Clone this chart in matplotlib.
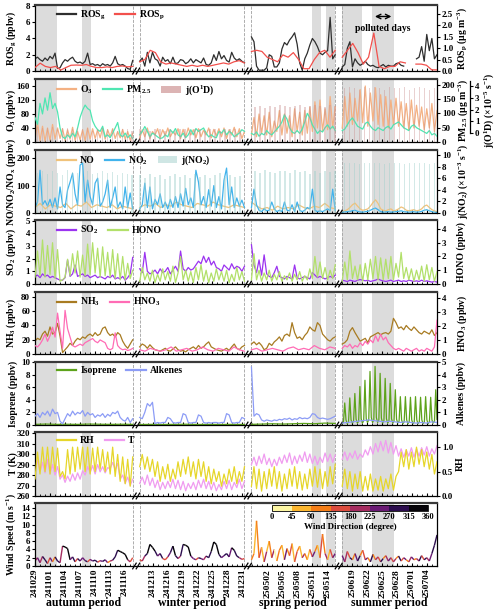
import numpy as np
import pandas as pd
import matplotlib
matplotlib.use('Agg')
import matplotlib.pyplot as plt
import matplotlib.transforms as mtransforms
from matplotlib.collections import LineCollection
from matplotlib.colors import ListedColormap, BoundaryNorm
from matplotlib.cm import ScalarMappable
from matplotlib.lines import Line2D
from matplotlib.patches import Patch

plt.rcParams['font.family'] = ['Liberation Serif', 'DejaVu Serif']
plt.rcParams['font.weight'] = 'bold'
plt.rcParams['axes.labelweight'] = 'bold'
plt.rcParams['mathtext.default'] = 'regular'

nan = np.nan

# ---- campaign periods (broken time axis) ----
SEGMENTS = ['autumn period', 'winter period', 'spring period', 'summer period']
SEG_START = ['2024-10-29 00:00', '2024-12-10 10:00', '2025-04-28 19:00', '2025-06-17 00:00']
SEG_END = ['2024-11-17 14:00', '2024-12-31 10:00', '2025-05-15 14:00', '2025-07-06 00:00']
FIRST_NOON = ['2024-10-29 12:00', '2024-12-10 12:00', '2025-04-29 12:00', '2025-06-17 12:00']
TICK_FIRST = ['2024-10-29', '2024-12-13', '2025-05-02', '2025-06-19']
TICK_LAST = ['2024-11-16', '2024-12-31', '2025-05-14', '2025-07-04']
POLLUTED = [(0, '2024-10-29 05:00', '2024-11-02 10:00'), (0, '2024-11-07 10:00', '2024-11-09 05:00'),
            (2, '2025-05-11 00:00', '2025-05-12 19:00'), (2, '2025-05-13 19:00', '2025-05-15 14:00'),
            (3, '2025-06-17 00:00', '2025-06-21 00:00'), (3, '2025-06-23 00:00', '2025-06-27 10:00')]
GAP = 1.4

# ---- ROS ----
ROSG_AUT = [1.5, 1.7, 1.4, 1.2, 1.6, 1.3, 1.8, 1.5, 2.2, 0.3, 0.4, 1.0, 1.4, 1.2, 1.5, 1.7, 1.2, 1.0, 1.1, 0.9,
            1.2, 2.2, 0.8, 0.9, 0.7, 0.8, 0.6, 0.9, 0.7, 0.8, 0.6, 1.0, 1.8, 0.9, 0.7, 0.8, 0.6, 0.3, 0.2, 1.3]
ROSG_WIN = [1.2, 1.6, 0.6, 2.3, 1.0, 2.3, 1.5, 1.3, 0.6, 1.7, 1.2, 1.4, 0.9, 1.7, 0.9, 1.0, 1.4, 1.3, 0.9, 1.1, 1.5,
            1.0, 1.4, 1.2, 1.0, 1.6, 0.8, 0.7, 1.0, 2.0, 1.3, 2.4, 1.5, 1.9, 1.3, 1.1, 2.3, 1.6, 1.3, 1.5, 1.2, 1.0]
ROSG_SPR = [4.2, 3.6, 0.6, 0.1, 0.1, 0.1, 0.4, 2.0, 1.8, 0.5, 0.5, 1.0, 2.7, 3.5, 3.2, 3.8, 4.2, 4.7, 3.3, 1.0,
            0.1, 1.5, 2.2, 3.2, 4.0, 3.6, 3.0, 2.2, 2.0, 2.3, 2.5, 6.6, 1.5, 2.0]
ROSG_SUM = [0.5, 0.8, 2.8, 3.6, 0.5, 1.5, 1.0, 0.7, 0.9, 1.2, 0.8, 0.6, 0.7, 0.5, 0.4, 0.6, 0.8, 0.5, 0.7, 0.6,
            0.6, 0.9, 1.0, 0.7, 0.6, nan, nan, nan, nan, 1.5, 1.7, 3.0, 1.2, 4.5, 2.5, 4.0, 1.5, 2.0]
ROSP_AUT = [0.15, 0.34, 0.2, 0.15, 0.2, 0.04, 0.15, 0.25, 0.26, 0.25, 0.28, 0.2, 0.15, 0.15, 0.18, 0.15, 0.2,
            0.22, 0.18, 0.2]
ROSP_WIN = [0.4, 0.5, 0.9, 0.8, 0.4, 0.3, 0.35, 0.3, 0.25, 0.2, 0.25, 0.2, 0.25, 0.2, 0.25, 0.3, 0.35, 0.3, 0.4,
            0.45, 0.35]
ROSP_SPR = [0.85, 0.9, 0.85, 0.6, 0.5, 0.4, 0.7, 0.6, 0.8, 0.5, 0.1, 0.1, 0.5, 0.8, 0.9, 0.6, 0.9]
ROSP_SUM = [0.6, 0.9, 1.2, 0.8, 0.3, 0.6, 1.65, 0.2, 0.1, 0.2, 0.2, 0.4, 0.35, nan, 0.3, 0.3, 0.25, 0.05, 0.05]

# ---- O3 / PM2.5 / j(O1D) ----
O3_AUT = [5, 55, 3, 45, 2, 40, 5, 50, 8, 40, 10, 38, 5, 35, 8, 42, 5, 30, 6, 35, 4, 40, 8, 38, 10, 35, 12, 40, 8,
          35, 15, 38, 10, 30, 12, 36, 8, 30, 5, 25]
O3_WIN = [10, 35, 15, 40, 10, 30, 20, 38, 12, 35, 18, 40, 15, 30, 20, 38, 10, 36, 15, 40, 20, 35, 12, 38, 15, 34,
          20, 40, 12, 36, 18, 38, 15, 40, 10, 35, 20, 42, 15, 38, 10, 30]
O3_SPR = [20, 70, 15, 80, 25, 75, 20, 85, 15, 60, 30, 90, 20, 80, 25, 75, 15, 95, 30, 85, 20, 90, 25, 100, 30, 115,
          40, 120, 30, 95, 35, 130, 40, 100]
O3_SUM = [40, 130, 45, 140, 50, 125, 60, 150, 55, 160, 45, 140, 60, 155, 50, 135, 45, 130, 40, 120, 50, 125, 45,
          115, 40, 110, 35, 120, 40, 105, 45, 100, 35, 95, 40, 110, 30, 90]
PM_AUT = [86, 62, 135, 98, 154, 111, 172, 117, 135, 105, 49, 18, 12, 25, 15, 31, 18, 49, 86, 111, 129, 117, 111,
          74, 55, 43, 37, 55, 18, 25, 15, 31, 49, 68, 25, 18, 31, 15, 25, 12]
PM_WIN = [25, 37, 54, 37, 18, 31, 25, 18, 12, 15, 25, 18, 43, 31, 47, 25, 18, 31, 15, 25, 43, 25, 47, 37, 43, 49,
          31, 18, 25, 18, 15, 37, 31, 43, 25, 37, 31, 18, 25, 31, 43, 37]
PM_SPR = [30, 25, 35, 20, 30, 25, 40, 30, 25, 35, 45, 55, 70, 95, 80, 50, 35, 30, 40, 30, 45, 70, 100, 85, 60, 45,
          30, 40, 35, 50, 60, 45, 55, 40]
PM_SUM = [40, 45, 60, 75, 84, 70, 55, 50, 45, 65, 70, 55, 45, 40, 50, 45, 40, 50, 55, 45, 60, 65, 70, 60, 50, 45,
          40, 55, 60, 50, 45, 40, 35, 30, 40, 25, 30, 20]
JO1D_AUT = [0.5, 0.4, 0.4, 0.5, 0.3, 0.4, 0.4, 0.3, 0.4, 0.3, 0.4, 0.2, 0.3, 0.4, 0.3, 0.3, 0.2, 0.3, 0.3, 0.2]
JO1D_WIN = [0.3, 0.3, 0.2, 0.3, 0.3, 0.2, 0.3, 0.2, 0.3, 0.3, 0.2, 0.3, 0.3, 0.2, 0.3, 0.3, 0.2, 0.3, 0.3, 0.3, 0.2]
JO1D_SPR = [2.2, 2.3, 2.1, 2.3, 2.2, 2.4, 2.3, 2.2, 2.3, 2.4, 2.2, 2.3, 2.4, 2.3, 2.2, 2.4, 2.3]
JO1D_SUM = [3.8, 3.9, 3.8, 3.7, 3.9, 3.8, 3.9, 3.8, 3.7, 3.9, 3.8, 3.8, 3.9, 3.7, 3.8, 3.9, 3.8, 3.7, 3.8]

# ---- NO / NO2 / j(NO2) ----
NO_AUT = [20, 35, 15, 30, 25, 20, 35, 15, 30, 25, 40, 20, 30, 25, 20, 30, 15, 25, 20, 15]
NO_WIN = [20, 30, 25, 35, 20, 30, 25, 40, 30, 25, 20, 35, 30, 25, 40, 30, 25, 20, 30, 25, 20]
NO_SPR = [40, 25, 15, 20, 10, 25, 15, 20, 15, 30, 20, 15, 25, 20, 35, 20, 15]
NO_SUM = [5, 8, 12, 20, 30, 36, 25, 15, 10, 12, 15, 25, 38, 48, 35, 15, 10, 8, 12, 15, 8, 10, 15, 22, 18, 10, 8,
          10, 12, 8, 10, 15, 25, 29, 20, 12, 8, 5]
NO2_AUT = [20, 40, 156, 30, 45, 25, 50, 20, 55, 15, 95, 30, 20, 84, 113, 145, 70, 30, 175, 182, 40, 120, 60, 30,
           109, 127, 25, 40, 70, 120, 20, 55, 95, 20, 40, 15, 95, 20, 73, 15]
NO2_WIN = [15, 30, 109, 20, 95, 15, 50, 30, 70, 20, 40, 15, 50, 20, 60, 20, 70, 25, 90, 30, 55, 20, 156, 113, 30,
           60, 20, 85, 25, 100, 20, 60, 15, 120, 164, 30, 95, 20, 55, 25, 47, 20]
NO2_SPR = [20, 87, 30, 10, 5, 15, 8, 10, 40, 15, 5, 10, 5, 40, 10, 8, 30, 5, 40, 10, 5, 10, 20, 15, 87, 10, 5, 8,
           5, 10, 15, 8, 87, 10]
NO2_SUM = [3, 4, 5, 6, 8, 10, 6, 4, 3, 5, 6, 10, 15, 18, 12, 5, 3, 4, 5, 3, 4, 5, 6, 8, 5, 4, 3, 4, 5, 3, 4, 6, 10,
           12, 8, 5, 3, 2]
JNO2_AUT = [7.0, 7.2, 6.8, 7.3, 7.0, 6.5, 7.4, 7.1, 6.9, 7.5, 7.2, 6.8, 7.0, 7.3, 6.9, 7.1, 6.6, 7.0, 6.8, 6.5]
JNO2_WIN = [6.5, 6.0, 6.8, 6.3, 6.6, 5.8, 6.4, 6.7, 6.2, 6.5, 6.0, 6.8, 6.3, 6.6, 6.1, 6.5, 6.9, 6.3, 6.6, 6.2, 6.4]
JNO2_SPR = [7.2, 7.0, 7.4, 7.1, 6.9, 7.3, 7.2, 7.0, 7.4, 7.1, 7.3, 6.8, 7.2, 7.0, 7.3, 7.1, 7.2]
JNO2_SUM = [8.6, 8.7, 8.6, 8.5, 8.7, 8.6, 8.6, 8.7, 8.5, 8.6, 8.7, 8.6, 8.5, 8.7, 8.6, 8.6, 8.7, 8.5, 8.6]

# ---- SO2 / HONO ----
SO2_AUT = [0.6, 0.7, 0.5, 0.8, 0.6, 0.7, 0.5, 0.6, 0.5, 0.4, 0.3, 0.3, 0.5, 1.9, 0.6, 0.8, 1.5, 0.6, 0.7, 0.8,
           0.6, 0.7, 0.5, 0.6, 0.7, 0.5, 0.6, 0.5, 0.4, 0.6, 0.5, 0.7, 0.4, 0.5, 0.4, 0.6, 0.3, 0.5, 0.8, 2.1]
SO2_WIN = [1.2, 0.9, 2.5, 1.0, 0.8, 0.9, 1.1, 0.8, 1.2, 0.9, 1.0, 1.3, 0.8, 1.1, 1.4, 1.0, 2.6, 1.2, 1.0, 1.3,
           1.1, 1.2, 1.5, 1.8, 1.6, 2.2, 1.7, 2.1, 1.5, 1.8, 1.3, 1.2, 1.0, 1.5, 1.3, 1.1, 1.6, 1.2, 1.4, 1.3, 1.0, 1.4]
SO2_SPR = [3.1, 1.5, 0.9, 1.9, 0.7, 2.3, 0.8, 0.6, 0.5, 0.9, 1.4, 0.6, 0.5, 0.4, 0.6, 0.5, 0.4, 1.5, 0.5, 0.4,
           0.5, 0.6, 0.5, 0.4, 0.9, 0.7, 0.5, 0.6, 0.5, 0.4, 0.5, 0.6, 0.5, 0.7]
SO2_SUM = [0.3, 0.25, 0.2, 0.3, 0.25, 0.2, 0.3, 0.35, 0.3, 0.25, 0.3, 0.2, 0.25, 0.3, 0.4, 0.3, 0.25, 0.2, 0.25,
           0.3, 0.2, 0.25, 0.3, 0.2, 0.25, 0.2, 0.3, 0.25, 0.2, 0.25, 0.2, 0.3, 0.2, 0.25, 0.2, 0.15, 0.2, 0.15]
HONO_AUT = [0.5, 2.4, 0.6, 3.2, 0.5, 2.8, 0.7, 3.0, 0.4, 2.5, 0.2, 0.3, 0.5, 1.8, 0.6, 2.2, 0.8, 2.4, 0.5, 2.1,
            0.6, 2.9, 0.7, 3.0, 0.8, 2.6, 0.5, 2.7, 0.6, 2.3, 0.5, 2.5, 0.4, 2.2, 0.3, 2.0, 0.3, 1.5, 0.4, 1.0]
HONO_WIN = [0.2, 1.2, 0.3, 0.8, 0.2, 1.0, 0.1, 0.7, 0.2, 1.1, 0.3, 0.9, 0.2, 1.3, 0.1, 0.8, 2.0, 0.3, 1.0, 0.2,
            0.9, 0.1, 1.2, 0.3, 1.4, 0.2, 1.0, 0.1, 0.8, 0.2, 1.1, 0.3, 0.9, 0.2, 1.0, 0.1, 0.7, 0.2, 1.2, 0.3, 0.9, 0.2]
HONO_SPR = [0.3, 2.2, 0.3, 1.0, 0.2, 0.8, 0.3, 1.0, 0.2, 0.7, 0.3, 0.9, 0.2, 0.6, 0.3, 0.8, 0.2, 0.7, 0.3, 0.9,
            0.2, 0.6, 0.3, 1.1, 0.4, 2.0, 0.5, 1.6, 0.4, 1.2, 0.3, 1.0, 0.4, 1.4]
HONO_SUM = [0.2, 1.6, 0.3, 2.4, 0.4, 1.3, 0.3, 1.4, 0.2, 1.5, 0.3, 1.8, 0.4, 2.0, 0.3, 1.9, 0.3, 1.8, 0.4, 2.0,
            0.3, 1.5, 0.5, 2.3, 0.4, 1.2, 0.3, 1.1, 0.2, 1.0, 0.3, 1.3, 0.2, 1.4, 0.3, 1.2, 0.2, 0.9]

# ---- NH3 / HNO3 ----
NH3_AUT = [18, 22, 20, 28, 32, 25, 38, 28, 30, 43, 25, 2, 6, 10, 15, 12, 18, 22, 20, 24, 22, 26, 28, 25, 30, 26,
           28, 36, 38, 30, 26, 28, 24, 30, 27, 18, 12, 8, 14, 20]
NH3_WIN = [10, 14, 12, 8, 13, 9, 6, 5, 4, 6, 8, 5, 4, 7, 10, 6, 4, 5, 3, 6, 8, 10, 7, 12, 8, 10, 14, 17, 10, 8, 6,
           5, 4, 6, 8, 5, 10, 14, 8, 6, 10, 12]
NH3_SPR = [14, 17, 13, 16, 12, 6, 8, 15, 12, 17, 20, 24, 18, 26, 28, 25, 44, 30, 22, 24, 20, 26, 30, 38, 34, 32,
           44, 40, 28, 24, 20, 18, 22, 24]
NH3_SUM = [14, 16, 20, 32, 37, 30, 24, 18, 20, 22, 16, 24, 26, 28, 30, 27, 29, 30, 28, 32, 50, 44, 36, 38, 34, 40,
           36, 33, 38, 34, 30, 28, 32, 30, 28, 34, 26, 30]
HNO3_AUT = [0.6, 0.5, 0.7, 1.0, 1.4, 0.9, 1.3, 1.9, 1.2, 2.9, 1.6, 0.4, 3.1, 1.8, 1.2, 0.6, 0.5, 0.6, 0.7, 0.6,
            0.8, 0.9, 1.0, 1.1, 0.9, 0.8, 1.0, 0.9, 0.8, 0.4, 0.3, 0.4, 1.5, 0.6, 0.4, 0.3, 0.35, 0.25, 0.3, 0.4]
HNO3_WIN = [0.3, 0.2, 0.4, 0.3, 0.2, 0.3, 0.5, 0.2, 0.3, 0.4, 0.2, 0.3, 0.5, 0.3, 0.2, 0.4, 0.3, 0.2, 0.5, 0.3, 0.2]
HNO3_SPR = [0.3, 0.4, 0.2, 0.3, 0.4, 0.3, 0.2, 0.4, 0.5, 0.3, 0.4, 0.3, 0.6, 0.4, 0.3, 0.5, 0.4]
HNO3_SUM = [0.4, 0.6, 0.5, 0.7, 0.4, 0.6, 0.5, 0.8, 0.6, 0.9, 0.7, 1.0, 0.8, 1.3, 0.9, 1.4, 1.0, 1.2, 0.8, 0.6,
            0.4, 0.3, 0.4, 0.3, 0.2, 0.4, 0.3, 0.2, 0.3, 0.4, 0.2, 0.3, 0.2, 0.4, 0.3, 0.2, 0.5, 2.4]

# ---- Isoprene / Alkenes ----
ISO_AUT = [0.1, 0.15, 0.1, 0.12, 0.1, 0.15, 0.12, 0.1, 0.12, 0.1]
ISO_WIN = [0.08, 0.1, 0.08, 0.1, 0.12, 0.08, 0.1, 0.08, 0.1, 0.08]
ISO_SPR = [0.1, 0.15, 0.2, 0.15, 0.2, 0.25, 0.2, 0.3, 0.25]
ISO_SUM = [0.2, 0.5, 3.5, 0.8, 0.2, 0.5, 4.3, 0.8, 0.3, 0.6, 5.0, 0.9, 0.3, 0.6, 6.1, 1.0,
           0.3, 0.7, 7.1, 1.0, 0.4, 0.8, 8.5, 1.2, 0.4, 0.8, 9.3, 1.2, 0.4, 0.8, 8.2, 1.1,
           0.3, 0.7, 7.4, 1.0, 0.3, 0.7, 6.6, 1.0, 0.3, 0.6, 5.6, 0.9, 0.3, 0.6, 4.5, 0.8,
           0.2, 0.5, 4.5, 0.8, 0.2, 0.5, 4.4, 0.8, 0.2, 0.5, 4.5, 0.8, 0.2, 0.5, 4.4, 0.8,
           0.2, 0.5, 4.5, 0.8, 0.2, 0.5, 4.4, 0.8, 0.3, 0.6, 5.6, 0.9]
ALK_AUT = [0.7, 0.9, 0.6, 1.0, 0.8, 1.1, 0.7, 1.26, 0.9, 1.0, 0.3, 0.1, 0.5, 0.9, 0.7, 1.1, 0.8, 1.0, 0.9, 1.15,
           0.7, 1.0, 0.8, 0.9, 0.6, 0.8, 0.7, 0.9, 0.6, 0.85, 0.7, 1.0, 0.9, 1.1, 0.6, 0.4, 0.3, 0.6, 0.2, 0.5]
ALK_WIN = [0.6, 0.5, 1.0, 1.7, 1.5, 1.8, 0.1, 0.2, 0.15, 0.2, 0.2, 0.6, 0.5, 0.2, 0.15, 0.2, 0.2, 0.9, 0.8, 0.2,
           0.15, 0.2, 0.2, 0.8, 0.7, 0.2, 0.15, 0.2, 0.15, 0.2, 0.2, 0.15, 0.2, 0.2, 0.9, 0.8, 0.2, 0.15, 0.2, 0.2,
           0.6, 0.5]
ALK_SPR = [4.6, 0.7, 0.9, 0.8, 0.4, 0.3, 0.4, 0.35, 0.3, 0.4, 0.35, 0.45, 0.4, 0.5, 0.45, 0.55, 0.4, 0.5, 0.45,
           0.6, 0.5, 0.55, 0.5, 0.6, 0.9, 0.85, 0.6, 0.5, 0.55, 0.5, 0.45, 0.5, 0.6, 0.7]
ALK_SUM = [0.15, 0.2, 0.25, 0.3, 0.35, 0.4, 0.35, 0.3, 0.25, 0.3, 0.25, 0.2, 0.25, 0.2, 0.15, 0.2, 0.15, 0.25, 0.2]

# ---- T / RH ----
T_AUT = [285, 294, 283, 292, 282, 295, 281, 290, 280, 288, 276, 280, 273, 279, 274, 281, 275, 282, 276, 284, 280,
         288, 282, 289, 281, 290, 283, 288, 282, 287, 286, 292, 285, 291, 276, 280, 272, 278, 270, 276]
T_WIN = [272, 278, 271, 280, 270, 277, 268, 275, 266, 273, 267, 274, 268, 276, 267, 275, 266, 274, 265, 272, 267,
         273, 266, 275, 268, 276, 267, 274, 266, 273, 265, 271, 266, 274, 267, 275, 266, 273, 268, 276, 267, 274]
T_SPR = [290, 297, 289, 298, 291, 300, 290, 296, 288, 295, 289, 297, 291, 299, 292, 301, 290, 298, 291, 299, 293,
         302, 292, 300, 291, 298, 290, 297, 292, 301, 293, 300, 292, 299]
T_SUM = [295, 302, 294, 301, 296, 303, 295, 300, 297, 304, 299, 307, 300, 310, 302, 312, 303, 313, 301, 311, 300,
         308, 298, 305, 297, 304, 298, 306, 297, 305, 298, 306, 299, 307, 298, 305, 300, 308]
RH_AUT = [0.35, 0.9, 0.45, 1.0, 0.5, 1.0, 0.45, 1.0, 0.5, 0.98, 0.4, 0.5, 0.35, 0.95, 0.45, 1.0, 0.5, 1.0, 0.55,
          1.0, 0.5, 1.0, 0.45, 0.98, 0.5, 1.0, 0.55, 0.95, 0.5, 0.9, 0.45, 1.0, 0.4, 0.85, 0.3, 0.8, 0.25, 0.75,
          0.2, 0.8]
RH_WIN = [0.6, 0.85, 0.55, 0.8, 0.5, 0.75, 0.4, 0.7, 0.3, 0.6, 0.35, 0.65, 0.3, 0.55, 0.35, 0.7, 0.4, 0.75, 0.45,
          0.8, 0.4, 0.7, 0.35, 0.75, 0.4, 0.7, 0.3, 0.6, 0.25, 0.55, 0.3, 0.5, 0.2, 0.45, 0.25, 0.55, 0.3, 0.6,
          0.25, 0.5, 0.3, 0.6]
RH_SPR = [0.2, 0.6, 0.15, 0.55, 0.1, 0.5, 0.15, 0.55, 0.2, 0.6, 0.15, 0.5, 0.1, 0.45, 0.15, 0.55, 0.2, 0.6, 0.15,
          0.5, 0.12, 0.45, 0.15, 0.55, 0.2, 0.6, 0.18, 0.55, 0.15, 0.5, 0.2, 0.6, 0.25, 0.65]
RH_SUM = [0.2, 0.55, 0.15, 0.5, 0.1, 0.45, 0.15, 0.5, 0.1, 0.4, 0.12, 0.45, 0.1, 0.35, 0.12, 0.4, 0.1, 0.35, 0.15,
          0.45, 0.12, 0.4, 0.5, 0.9, 0.6, 0.95, 0.55, 0.9, 0.6, 1.0, 0.65, 0.95, 0.6, 0.9, 0.55, 0.85, 0.45, 0.7]

# ---- Wind speed / direction ----
WS_AUT = [1.2, 2.0, 0.8, 2.3, 1.5, 0.6, 2.0, 1.0, 2.2, 1.2, 0.8, 4.8, 4.6, 4.2, 1.5, 2.2, 1.0, 1.8, 1.2, 2.0, 1.3,
          1.0, 1.6, 1.2, 1.4, 0.9, 1.3, 1.1, 1.5, 0.8, 1.2, 1.4, 2.2, 3.8, 3.5, 3.2, 2.8, 1.5, 1.0, 2.0]
WS_WIN = [1.5, 1.2, 2.4, 3.0, 5.2, 4.5, 3.6, 2.4, 3.0, 1.8, 1.5, 2.2, 3.2, 4.8, 2.5, 1.8, 2.4, 5.2, 5.0, 4.6, 2.4,
          1.8, 1.5, 2.0, 1.8, 1.5, 2.4, 2.0, 3.5, 5.8, 5.2, 2.8, 2.0, 2.5, 3.0, 2.2, 4.4, 3.8, 2.4, 2.0, 1.6, 1.8]
WS_SPR = [1.5, 3.0, 10.9, 2.0, 4.5, 1.0, 3.5, 6.0, 2.0, 4.0, 1.2, 3.8, 5.0, 1.5, 4.2, 2.5, 5.4, 1.0, 3.5, 4.8, 2.0,
          3.0, 1.5, 4.0, 2.2, 3.5, 5.0, 2.0, 7.7, 3.0, 1.5, 4.0, 2.0, 3.0]
WS_SUM = [2.5, 1.0, 3.5, 2.0, 1.5, 3.0, 1.2, 2.5, 3.8, 1.5, 2.0, 1.0, 2.8, 1.5, 2.2, 1.0, 1.8, 2.5, 1.2, 2.0, 1.0,
          1.8, 2.4, 1.2, 2.0, 1.5, 1.0, 2.2, 1.5, 1.8, 1.2, 2.5, 1.5, 2.0, 1.2, 3.0, 5.0, 7.5]
WD_AUT = [200, 250, 180, 280, 300, 150, 260, 120, 290, 310, 200, 340, 350, 330, 250, 280, 160, 300, 260, 230, 280,
          140, 250, 270, 300, 160, 260, 280, 240, 100, 220, 280, 300, 340, 350, 330, 320, 200, 150, 260]
WD_WIN = [150, 180, 300, 320, 340, 350, 280, 260, 300, 170, 140, 260, 300, 330, 280, 200, 270, 340, 350, 330, 260,
          240, 150, 280, 260, 200, 300, 280, 320, 350, 340, 300, 260, 280, 300, 250, 330, 310, 270, 180, 160, 250]
WD_SPR = [90, 60, 100, 150, 80, 200, 60, 120, 180, 40, 100, 130, 60, 260, 90, 140, 50, 170, 110, 60, 220, 130, 80,
          150, 250, 100, 60, 170, 120, 200, 80, 140, 260, 110]
WD_SUM = [260, 200, 150, 280, 120, 240, 300, 100, 160, 250, 130, 280, 90, 220, 150, 300, 120, 180, 260, 140, 200,
          110, 270, 150, 230, 90, 180, 260, 120, 200, 280, 140, 300, 220, 260, 300, 280, 290]
WD_BOUNDS = [0, 45, 90, 135, 180, 225, 270, 315, 360]
WD_COLORS = ['#fcf6a3', '#fbb62f', '#f57e17', '#dc4c3e', '#a52c60', '#6a1a74', '#2c0d4e', '#050308']

# ---- time axis helpers ----
starts = pd.to_datetime(SEG_START)
ends = pd.to_datetime(SEG_END)
span = np.asarray((ends - starts) / pd.Timedelta('1D'), dtype=float)
offset = np.concatenate([[0.0], np.cumsum(span[:-1] + GAP)])
XMAX = offset[-1] + span[-1]


def to_u(t, k):
    return offset[k] + (pd.Timestamp(t) - starts[k]) / pd.Timedelta('1D')


def seg_x(k, n):
    return np.linspace(offset[k], offset[k] + span[k], n)


major_u, major_lab, minor_u = [], [], []
for k in range(4):
    for d in pd.date_range(TICK_FIRST[k], TICK_LAST[k], freq='3D'):
        major_u.append(to_u(d, k))
        major_lab.append(d.strftime('%y%m%d'))
    for d in pd.date_range(starts[k].ceil('D'), ends[k].floor('D'), freq='D'):
        minor_u.append(to_u(d, k))
bounds_u = []
for k in range(3):
    bounds_u += [offset[k] + span[k], offset[k + 1]]
polluted_u = [(to_u(a, k), to_u(b, k)) for k, a, b in POLLUTED]


def plot_seg(ax, series, color, lw=0.9, **kw):
    for k, vals in enumerate(series):
        ax.plot(seg_x(k, len(vals)), np.asarray(vals, float), color=color, lw=lw, **kw)


def plot_daily(ax, series, color, base, alpha):
    for k, vals in enumerate(series):
        x = to_u(FIRST_NOON[k], k) + np.arange(len(vals))
        ax.bar(x, np.asarray(vals) - base, bottom=base, width=0.32, color=color, alpha=alpha, lw=0)


def style(ax, bottom=False):
    ax.set_xlim(0, XMAX)
    ax.set_xticks(major_u)
    ax.set_xticks(minor_u, minor=True)
    if bottom:
        ax.set_xticklabels(major_lab, rotation=90, fontsize=6.8)
    else:
        ax.set_xticklabels([])
    ax.tick_params(axis='x', which='major', direction='in', length=2.5, width=0.8, pad=2)
    ax.tick_params(axis='x', which='minor', direction='in', length=1.5, width=0.6)
    ax.tick_params(axis='y', direction='out', length=2.5, width=0.8, labelsize=6.5, pad=1)
    for a, b in polluted_u:
        ax.axvspan(a, b, color='#dcdcdc', lw=0, zorder=0)
    for u in bounds_u:
        ax.axvline(u, color='#a0a0a0', ls='--', lw=0.6, zorder=0.5)
    tr = mtransforms.blended_transform_factory(ax.transData, ax.transAxes)
    for k in range(3):
        e = offset[k] + span[k]
        for u in (e + 0.35, e + 1.05):
            ax.plot([u - 0.35, u + 0.35], [-0.045, 0.045], color='k', lw=0.9,
                    transform=tr, clip_on=False, zorder=5)
    for s in ax.spines.values():
        s.set_linewidth(0.9)
    ax.spines['top'].set_linewidth(1.6)
    ax.spines['top'].set_color('#3a3a3a')
    ax.yaxis.set_label_coords(-0.043, 0.5)


def right_axis(ax, ylim, ticks, label, fmt=None):
    axr = ax.twinx()
    axr.set_ylim(*ylim)
    axr.set_yticks(ticks)
    if fmt:
        axr.set_yticklabels([fmt % t for t in ticks])
    axr.tick_params(axis='y', direction='out', length=2.5, width=0.8, labelsize=6.5, pad=1)
    axr.set_ylabel(label, fontsize=7)
    axr.yaxis.set_label_coords(1.047, 0.5)
    for s in axr.spines.values():
        s.set_visible(False)
    return axr


def legend(ax, handles, labels):
    ax.legend(handles, labels, loc='upper left', bbox_to_anchor=(0.04, 1.03), ncol=3, frameon=False,
              fontsize=7, handlelength=2.0, handletextpad=0.4, columnspacing=1.0, borderaxespad=0.2)


def L(c):
    return Line2D([], [], color=c, lw=1.6)


fig = plt.figure(figsize=(5, 6.15), dpi=100)
TOPS = [5, 79, 150, 220, 292, 362, 432, 503]
BOTS = [71, 142, 213, 284, 354, 425, 496, 566]
axs = [fig.add_axes([35 / 500, 1 - b / 615, 402 / 500, (b - t) / 615]) for t, b in zip(TOPS, BOTS)]
for i, ax in enumerate(axs):
    style(ax, bottom=(i == 7))

C = dict(rosg='#2e2e2e', rosp='#f2504c', o3='#f4b183', pm='#4fe6b2', jo1d='#c98e8e',
         no='#f0c27a', no2='#41b3ec', jno2='#9fcfcb', so2='#9b33f0', hono='#b2e06a',
         nh3='#a87b22', hno3='#ff6cb5', iso='#5da31b', alk='#8c9cf6', rh='#e6d62a', t='#f09cf0')

# 1 ROS
ax = axs[0]
plot_seg(ax, [ROSG_AUT, ROSG_WIN, ROSG_SPR, ROSG_SUM], C['rosg'])
ax.set_ylim(0, 8.12)
ax.set_yticks([0, 2, 4, 6, 8])
ax.set_ylabel('ROS$_g$ (ppbv)', fontsize=7)
axr = right_axis(ax, (0, 2.87), [0, 0.5, 1.0, 1.5, 2.0, 2.5], 'ROS$_p$ (μg m$^{-3}$)', '%.1f')
plot_seg(axr, [ROSP_AUT, ROSP_WIN, ROSP_SPR, ROSP_SUM], C['rosp'])
legend(axr, [L(C['rosg']), L(C['rosp'])], ['ROS$_g$', 'ROS$_p$'])
a, b = polluted_u[5]
axr.annotate('', xy=(b, 2.37), xytext=(a, 2.37),
             arrowprops=dict(arrowstyle='<->', color='k', lw=1.0, mutation_scale=8))
axr.text((a + b) / 2, 1.84, 'polluted days', ha='center', va='center', fontsize=7)

# 2 O3 / PM2.5 / j(O1D)
ax = axs[1]
plot_seg(ax, [O3_AUT, O3_WIN, O3_SPR, O3_SUM], C['o3'])
ax.set_ylim(0, 180)
ax.set_yticks([0, 40, 80, 120, 160])
ax.set_ylabel('O$_3$ (ppbv)', fontsize=7)
axr = right_axis(ax, (0, 220), [0, 50, 100, 150, 200], 'PM$_{2.5}$ (μg m$^{-3}$)')
plot_seg(axr, [PM_AUT, PM_WIN, PM_SPR, PM_SUM], C['pm'])
axj = ax.twinx()
JLIM = (-0.77, 4.6)
axj.set_ylim(*JLIM)
plot_daily(axj, [JO1D_AUT, JO1D_WIN, JO1D_SPR, JO1D_SUM], C['jo1d'], JLIM[0], 0.4)
for s in ['top', 'bottom', 'left']:
    axj.spines[s].set_visible(False)
axj.spines['right'].set_position(('axes', 1.082))
axj.spines['right'].set_bounds(0, 4.45)
axj.spines['right'].set_linewidth(0.9)
axj.set_yticks([0, 1, 2, 3, 4])
axj.tick_params(axis='y', direction='out', length=2.5, width=0.8, labelsize=6.5, pad=1)
axj.set_ylabel('j(O$^1$D) (×10$^{-5}$ s$^{-1}$)', fontsize=7)
axj.yaxis.set_label_coords(1.112, 0.5)
legend(axj, [L(C['o3']), L(C['pm']), Patch(facecolor='#dcb4b4', lw=0)],
       ['O$_3$', 'PM$_{2.5}$', 'j(O$^1$D)'])

# 3 NO / NO2 / j(NO2)
ax = axs[2]
plot_seg(ax, [NO_AUT, NO_WIN, NO_SPR, NO_SUM], C['no'])
plot_seg(ax, [NO2_AUT, NO2_WIN, NO2_SPR, NO2_SUM], C['no2'])
ax.set_ylim(0, 230)
ax.set_yticks([0, 100, 200])
ax.set_ylabel('NO/NO$_2$/NO$_x$ (ppbv)', fontsize=7)
axr = right_axis(ax, (0, 10.9), [0, 2, 4, 6, 8, 10], 'j(NO$_2$) (×10$^{-3}$ s$^{-1}$)')
plot_daily(axr, [JNO2_AUT, JNO2_WIN, JNO2_SPR, JNO2_SUM], C['jno2'], 0, 0.45)
legend(axr, [L(C['no']), L(C['no2']), Patch(facecolor='#cfe6e4', lw=0)],
       ['NO', 'NO$_2$', 'j(NO$_2$)'])

# 4 SO2 / HONO
ax = axs[3]
plot_seg(ax, [SO2_AUT, SO2_WIN, SO2_SPR, SO2_SUM], C['so2'])
ax.set_ylim(0, 5.05)
ax.set_yticks([0, 1, 2, 3, 4, 5])
ax.set_ylabel('SO$_2$ (ppbv)', fontsize=7)
axr = right_axis(ax, (0, 4.65), [0, 1, 2, 3, 4], 'HONO (ppbv)')
plot_seg(axr, [HONO_AUT, HONO_WIN, HONO_SPR, HONO_SUM], C['hono'])
legend(axr, [L(C['so2']), L(C['hono'])], ['SO$_2$', 'HONO'])

# 5 NH3 / HNO3
ax = axs[4]
plot_seg(ax, [NH3_AUT, NH3_WIN, NH3_SPR, NH3_SUM], C['nh3'])
ax.set_ylim(0, 87)
ax.set_yticks([0, 20, 40, 60, 80])
ax.set_ylabel('NH$_3$ (ppbv)', fontsize=7)
axr = right_axis(ax, (0, 4.4), [0, 1, 2, 3, 4], 'HNO$_3$ (ppbv)')
plot_seg(axr, [HNO3_AUT, HNO3_WIN, HNO3_SPR, HNO3_SUM], C['hno3'])
legend(axr, [L(C['nh3']), L(C['hno3'])], ['NH$_3$', 'HNO$_3$'])

# 6 Isoprene / Alkenes
ax = axs[5]
plot_seg(ax, [ISO_AUT, ISO_WIN, ISO_SPR, ISO_SUM], C['iso'])
ax.set_ylim(0, 10)
ax.set_yticks([0, 2, 4, 6, 8, 10])
ax.set_ylabel('Isoprene (ppbv)', fontsize=7)
axr = right_axis(ax, (0, 5), [0, 1, 2, 3, 4, 5], 'Alkenes (ppbv)')
plot_seg(axr, [ALK_AUT, ALK_WIN, ALK_SPR, ALK_SUM], C['alk'])
legend(axr, [L(C['iso']), L(C['alk'])], ['Isoprene', 'Alkenes'])

# 7 T / RH
ax = axs[6]
plot_seg(ax, [T_AUT, T_WIN, T_SPR, T_SUM], C['t'])
ax.set_ylim(260, 321)
ax.set_yticks([260, 270, 280, 290, 300, 310, 320])
ax.set_ylabel('T (K)', fontsize=7)
axr = right_axis(ax, (0, 1.31), [0, 0.5, 1.0], 'RH', '%.1f')
plot_seg(axr, [RH_AUT, RH_WIN, RH_SPR, RH_SUM], C['rh'])
legend(axr, [L(C['rh']), L(C['t'])], ['RH', 'T'])

# 8 wind speed coloured by direction
ax = axs[7]
cmap = ListedColormap(WD_COLORS)
norm = BoundaryNorm(WD_BOUNDS, cmap.N)
for k, (ws, wd) in enumerate(zip([WS_AUT, WS_WIN, WS_SPR, WS_SUM], [WD_AUT, WD_WIN, WD_SPR, WD_SUM])):
    pts = np.column_stack([seg_x(k, len(ws)), ws])
    segs = np.stack([pts[:-1], pts[1:]], axis=1)
    lc = LineCollection(segs, cmap=cmap, norm=norm, lw=1.0)
    lc.set_array(np.asarray(wd[:-1], float))
    ax.add_collection(lc)
ax.set_ylim(0, 15.2)
ax.set_yticks(range(0, 15, 2))
ax.set_ylabel('Wind Speed (m s$^{-1}$)', fontsize=7)
cax = ax.inset_axes([0.59, 0.87, 0.388, 0.095])
cb = fig.colorbar(ScalarMappable(norm=norm, cmap=cmap), cax=cax, orientation='horizontal', ticks=WD_BOUNDS)
cb.ax.tick_params(labelsize=6, length=0, pad=1.5)
cb.outline.set_linewidth(0.6)
cb.set_label('Wind Direction (degree)', fontsize=6.5, labelpad=1.5)

tr = mtransforms.blended_transform_factory(ax.transData, fig.transFigure)
for k, name in enumerate(SEGMENTS):
    ax.text(offset[k] + span[k] / 2, 1 - 603 / 615, name, transform=tr, ha='center', va='center', fontsize=8.5)

fig.savefig('out.png', dpi=100)
